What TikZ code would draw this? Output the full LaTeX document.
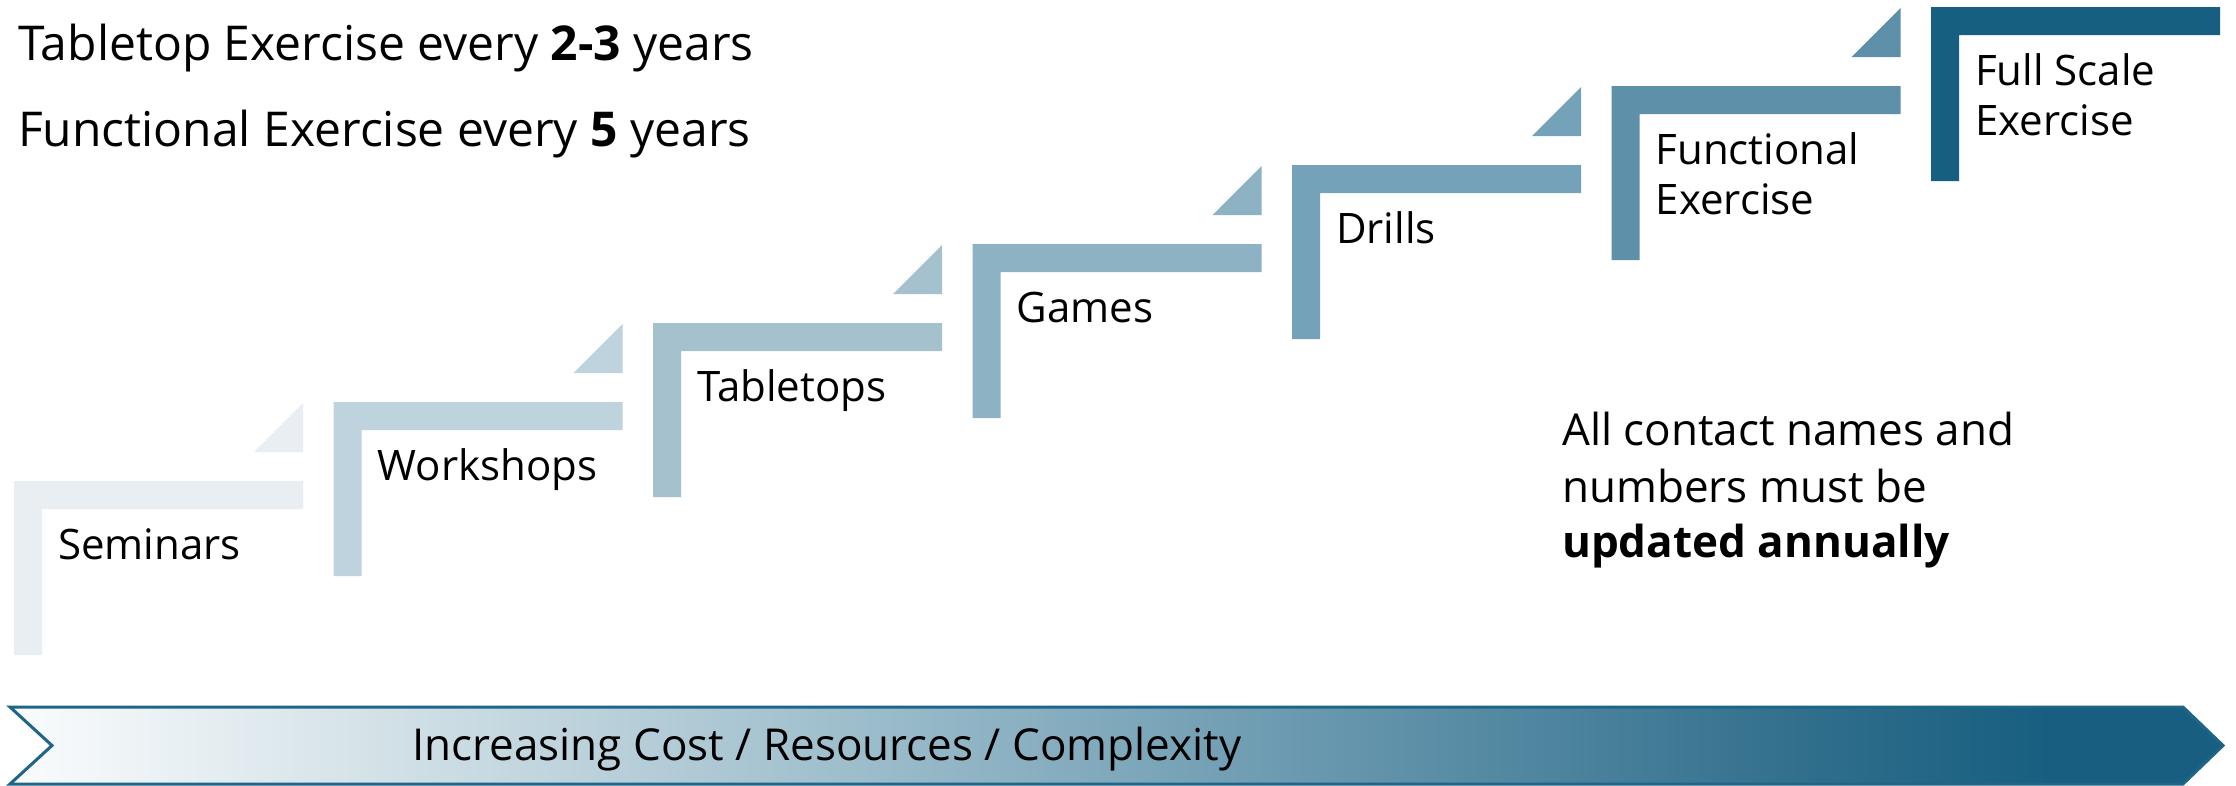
\documentclass[tikz,border=0pt]{standalone}
\usepackage{fontspec}
\setmainfont{Open Sans}

% step colours, light to dark
\definecolor{stA}{HTML}{E8EEF2}
\definecolor{stB}{HTML}{BED3DD}
\definecolor{stC}{HTML}{A5C1CE}
\definecolor{stD}{HTML}{8DB2C4}
\definecolor{stE}{HTML}{74A2B8}
\definecolor{stF}{HTML}{5E90A9}
\definecolor{stG}{HTML}{175F81}

% colours of the cost arrow
\definecolor{arwA}{HTML}{FAFCFD}
\definecolor{arwB}{HTML}{D3E1E7}
\definecolor{arwC}{HTML}{98BAC9}
\definecolor{arwD}{HTML}{5F91A9}
\definecolor{arwE}{HTML}{316F8C}
\definecolor{arwF}{HTML}{175E80}
\definecolor{arwLine}{HTML}{1E6587}

\pgfdeclarehorizontalshading{costshade}{100bp}{%
  color(0bp)=(arwA); color(25bp)=(arwA); color(33.4bp)=(arwB);
  color(45.1bp)=(arwC); color(56.4bp)=(arwD); color(65.5bp)=(arwE);
  color(71.1bp)=(arwF); color(75bp)=(arwF); color(100bp)=(arwF)}

\tikzset{
  steplabel/.style={anchor=base west, inner sep=0pt, font=\fontsize{42}{50}\selectfont},
  headline/.style={anchor=base west, inner sep=0pt, font=\fontsize{48}{58}\selectfont},
  notetext/.style={anchor=base west, inner sep=0pt, font=\fontsize{44}{54}\selectfont},
}

\begin{document}
\begin{tikzpicture}[x=1pt,y=-1pt]
\useasboundingbox (0,0) rectangle (2236,785);
\fill[white] (0,0) rectangle (2236,785);

% the staircase: an L-shaped bracket per step
\foreach \i/\col in {0/stA,1/stB,2/stC,3/stD,4/stE,5/stF,6/stG} {
  \pgfmathsetmacro\sx{14+319.5*\i}
  \pgfmathsetmacro\sy{481-79*\i}
  \fill[\col] (\sx,\sy) -- ++(289,0) -- ++(0,28) -- ++(-261,0)
     -- ++(0,146) -- ++(-28,0) -- cycle;
}
% small corner triangles leading to the next step
\foreach \i/\col in {0/stA,1/stB,2/stC,3/stD,4/stE,5/stF} {
  \pgfmathsetmacro\sx{14+319.5*\i}
  \pgfmathsetmacro\sy{481-79*\i}
  \fill[\col] (\sx+289,\sy-78) -- (\sx+289,\sy-29) -- (\sx+240,\sy-29) -- cycle;
}

% step labels
\node[steplabel] (seminars)  at (58,559)    {Seminars};
\node[steplabel] (workshops) at (377.5,480) {Workshops};
\node[steplabel] (tabletops) at (697,401)   {Tabletops};
\node[steplabel] (games)     at (1016.5,322) {Games};
\node[steplabel] (drills)    at (1336,243)  {Drills};
\node[steplabel] (functional1) at (1655.5,164) {Functional};
\node[steplabel] (functional2) at (1655.5,214) {Exercise};
\node[steplabel] (fullscale1)  at (1975,85)  {Full Scale};
\node[steplabel] (fullscale2)  at (1975,135) {Exercise};

% frequency notes
\node[headline] (tabletopfreq) at (18,60)  {Tabletop Exercise every \textbf{2-3} years};
\node[headline] (functionalfreq) at (18,146) {Functional Exercise every \textbf{5} years};

% contact note
\node[notetext] (note1) at (1562,445) {All contact names and};
\node[notetext] (note2) at (1562,502) {numbers must be};
\node[notetext] (note3) at (1562,557) {\textbf{updated annually}};

% cost arrow along the bottom
\path[draw=arwLine, line width=3pt, line join=miter, shading=costshade]
  (10,707) -- (2183,707) -- (2223,745.5) -- (2183,784) -- (10,784) -- (52,745.5) -- cycle;
\node[notetext] (costlabel) at (412,760) {Increasing Cost / Resources / Complexity};
\end{tikzpicture}
\end{document}
